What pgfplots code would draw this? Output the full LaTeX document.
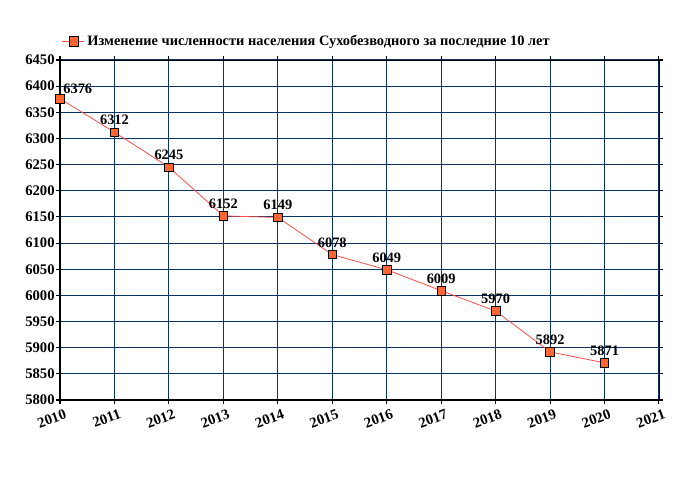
\documentclass[border=0pt]{standalone}
\usepackage{pgfplots}
\pgfplotsset{compat=1.18}
\usepackage{fontspec}
\setmainfont{Liberation Serif}
\definecolor{gridblue}{HTML}{0B3466}
\definecolor{lineRed}{HTML}{FF4D4D}
\definecolor{markOrange}{HTML}{FF6633}
\begin{document}
\begin{tikzpicture}
\useasboundingbox (-45pt,-75pt) rectangle (465pt,300pt);
\begin{axis}[
  at={(0,0)}, anchor=south west,
  scale only axis, width=449.25pt, height=255pt,
  xmin=2010, xmax=2021, ymin=5800, ymax=6450,
  xtick={2010,...,2021}, ytick={5800,5850,...,6450},
  grid=major, major grid style={gridblue, line width=0.8pt},
  axis line style={black, line width=0.6pt},
  tick style={black, line width=0.8pt}, tick align=outside, major tick length=3pt,
  /pgf/number format/assume math mode=true,
  /pgf/number format/set thousands separator={},
  ticklabel style={font=\bfseries\fontsize{11}{12}\selectfont},
  xticklabel style={rotate=20, anchor=north east, xshift=5pt, yshift=-1pt},
  yticklabel style={xshift=2.5pt},
  legend style={draw=none, fill=none, at={(-0.005,1.02)}, anchor=south west,
    font=\bfseries\fontsize{10.8}{12}\selectfont, legend cell align=left},
  legend image code/.code={
    \draw[lineRed, line width=0.6pt] (-2pt,0pt) -- (15pt,0pt);
    \draw[black, fill=markOrange, line width=0.6pt] (3.5pt,-3.5pt) rectangle (10.5pt,3.5pt);},
  clip=false,
]
\addplot[lineRed, line width=0.6pt, mark=square*, mark size=3.2pt,
  mark options={fill=markOrange, draw=black, line width=0.6pt}]
  coordinates {(2010,6376)(2011,6312)(2012,6245)(2013,6152)(2014,6149)(2015,6078)(2016,6049)(2017,6009)(2018,5970)(2019,5892)(2020,5871)};
\addlegendentry{Изменение численности населения Сухобезводного за последние 10 лет}
\addplot[draw=none, forget plot, nodes near coords, point meta=explicit symbolic,
  nodes near coords style={font=\bfseries\fontsize{10.8}{12}\selectfont, anchor=south, yshift=2pt}]
  table[meta=l] {
x y l
2011 6312 6312
2012 6245 6245
2013 6152 6152
2014 6149 6149
2015 6078 6078
2016 6049 6049
2017 6009 6009
2018 5970 5970
2019 5892 5892
2020 5871 5871
};
\addplot[draw=none, forget plot, nodes near coords, point meta=explicit symbolic,
  nodes near coords style={font=\bfseries\fontsize{10.8}{12}\selectfont, anchor=south west, xshift=-1pt, yshift=0pt}]
  table[meta=l] {
x y l
2010 6376 6376
};
\draw[black, line width=1.6pt] (axis cs:2010,6450) -- (axis cs:2010,5800) -- (axis cs:2021,5800);
\end{axis}
\end{tikzpicture}
\end{document}
